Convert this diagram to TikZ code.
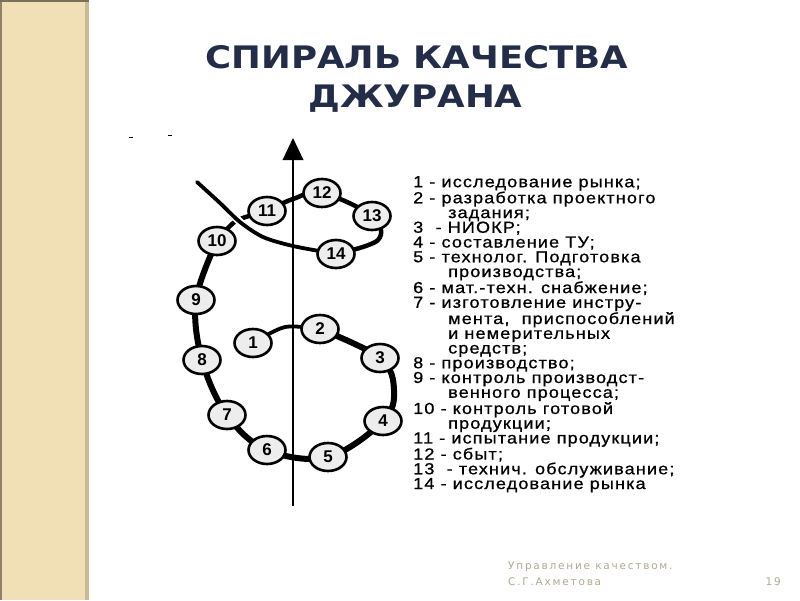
\documentclass[tikz,border=0pt]{standalone}
\usepackage{fontspec}
\usetikzlibrary{shapes.geometric}
\newfontfamily\titlefont{DejaVu Sans}
\newfontfamily\listfont[LetterSpace=7,FakeStretch=1.13,FakeBold=0.8]{Liberation Sans}
\newfontfamily\numfont{Liberation Sans}
\newfontfamily\footfont[LetterSpace=17]{DejaVu Sans}
\definecolor{beige}{HTML}{F1E0B6}
\definecolor{beigedark}{HTML}{C9BA96}
\definecolor{navy}{HTML}{232D48}
\definecolor{footgray}{HTML}{B3A891}
\pgfdeclarelayer{bottom}
\pgfdeclarelayer{lines}
\pgfsetlayers{bottom,lines,main}
\tikzset{
  spnode/.style={ellipse, draw=black, line width=2.6pt, fill=gray!14,
    minimum width=37pt, minimum height=28pt, inner sep=0pt,
    font=\numfont\bfseries\fontsize{17}{17}\selectfont},
  thickline/.style={line width=6pt, line join=round, line cap=round},
  midline/.style={line width=4.5pt, line join=round, line cap=round},
  thinline/.style={line width=3.8pt, line join=round, line cap=round},
  titletext/.style={font=\titlefont\bfseries\fontsize{31}{31}\selectfont, text=navy},
  foottext/.style={inner sep=0pt, text=footgray, font=\footfont\fontsize{10.5}{10.5}\selectfont},
}
\begin{document}
\begin{tikzpicture}[x=1pt,y=-1pt]
\useasboundingbox (0,0) rectangle (800,600);
\begin{pgfonlayer}{bottom}
\fill[white] (0,0) rectangle (800,600);
% left stripe
\fill[beige] (0,0) rectangle (86,600);
\fill[beigedark] (85,0) rectangle (89,600);
\fill[beigedark!70!black] (0,0) rectangle (1.5,600);
\fill[beigedark!60!black] (0,0) rectangle (89,2);
\end{pgfonlayer}
% title
\node[titletext] (t1) at (417,57) {\scalebox{1.147}[1]{СПИРАЛЬ КАЧЕСТВА}};
\node[titletext] (t2) at (415.5,99) {\scalebox{1.15}[1]{ДЖУРАНА}};
% tiny marks
\draw[line width=1pt] (129,137) -- (133,137);
\draw[line width=1pt] (168,135) -- (172,135);
% axis
\coordinate (axb) at (293,506);
\coordinate (axt) at (293,138);
\draw[line width=1.8pt] (axb) -- (293,155);
\fill (axt) -- (303.5,160) -- (282.5,160) -- cycle;
% nodes
\node[spnode] (n1) at (253,343) {1};
\node[spnode] (n2) at (320,329) {2};
\node[spnode] (n3) at (380,358) {3};
\node[spnode] (n4) at (383,421) {4};
\node[spnode] (n5) at (328,457) {5};
\node[spnode] (n6) at (267,450) {6};
\node[spnode] (n7) at (227,415) {7};
\node[spnode] (n8) at (202,360) {8};
\node[spnode] (n9) at (196,300) {9};
\node[spnode] (n10) at (217,241) {10};
\node[spnode] (n11) at (267,211) {11};
\node[spnode] (n12) at (322,193) {12};
\node[spnode] (n13) at (372,216) {13};
\node[spnode] (n14) at (336,254) {14};
\coordinate (tailend) at (197,182);
\begin{pgfonlayer}{lines}
\draw[thinline] plot[smooth] coordinates {(n1) (285,327) (n2)};
\draw[thickline] plot[smooth, tension=0.6] coordinates {(n2) (n3) (394,390) (n4) (n5) (n6) (n7) (n8) (n9) (n10)};
\draw[midline] plot[smooth] coordinates {(n10) (236,221) (n11)};
\draw[midline] plot[smooth, tension=0.6] coordinates {(n11) (293,199) (n12) (n13) (378,240) (n14)};
\draw[white, line width=8pt] (247,229) -- (231,213);
\draw[thinline] plot[smooth] coordinates {(n14) (293,246) (263,237) (240,222) (220,203) (tailend)};
\end{pgfonlayer}
% list
\node[anchor=north west, inner sep=0pt, align=left,
  font=\listfont\fontsize{16}{14.75}\selectfont] (list) at (413,176) {%
1 - исследование рынка;\\
2 - разработка проектного\\
\hspace*{35pt}задания;\\
3 \ - НИОКР;\\
4 - составление ТУ;\\
5 - технолог. Подготовка\\
\hspace*{35pt}производства;\\
6 - мат.-техн. снабжение;\\
7 - изготовление инстру-\\
\hspace*{35pt}мента, \ приспособлений\\
\hspace*{35pt}и немерительных\\
\hspace*{35pt}средств;\\
8 - производство;\\
9 - контроль производст-\\
\hspace*{35pt}венного процесса;\\
10 - контроль готовой\\
\hspace*{35pt}продукции;\\
11 - испытание продукции;\\
12 - сбыт;\\
13 \ - технич. обслуживание;\\
14 - исследование рынка};
% footer
\node[foottext, anchor=west] (f1) at (508,567) {Управление качеством.};
\node[foottext, anchor=west] (f2) at (508,582) {С.Г.Ахметова};
\node[foottext, anchor=east] (f3) at (781,582) {19};
\end{tikzpicture}
\end{document}
